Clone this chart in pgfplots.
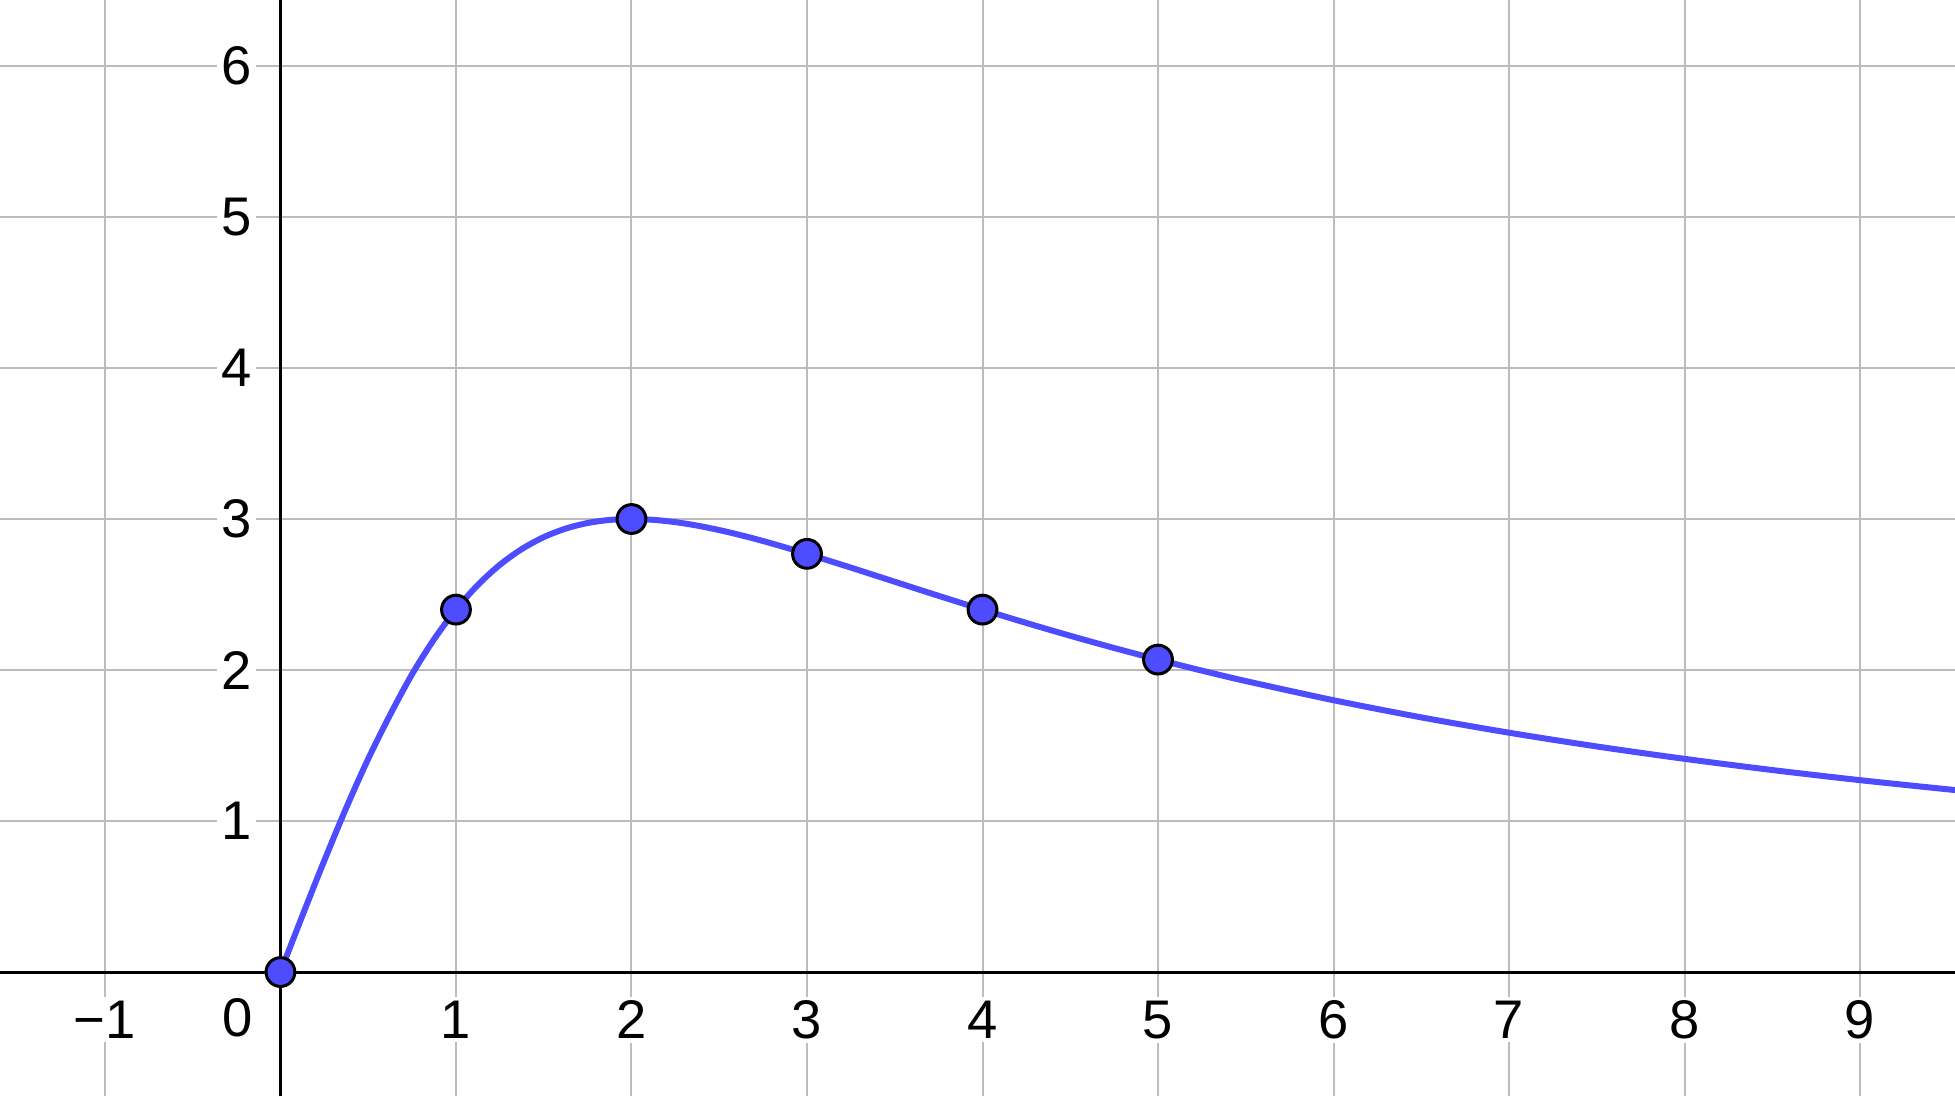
\documentclass[border=0pt]{standalone}
\usepackage{fontspec}
\setmainfont{Liberation Sans}
\usepackage{pgfplots}
\pgfplotsset{compat=1.18}
\definecolor{ggblue}{RGB}{77,77,255}
\definecolor{gridgray}{RGB}{188,188,188}
\begin{document}
\begin{tikzpicture}
\begin{axis}[
  width=488.75pt, height=274pt, scale only axis,
  xmin=-1.598, xmax=9.541, ymin=-0.821, ymax=6.437,
  axis lines=middle,
  axis line style={-, black, line width=0.75pt},
  xtick={-1,1,2,3,4,5,6,7,8,9}, ytick={1,2,3,4,5,6},
  xticklabels={−1,1,2,3,4,5,6,7,8,9},
  yticklabels={1,2,3,4,5,6},
  grid=major, grid style={gridgray, line width=0.5pt},
  major tick length=0pt,
  tick label style={font=\fontsize{13.6}{16}\selectfont, fill=white, inner sep=1pt},
  xticklabel style={anchor=north, yshift=-6pt},
  yticklabel style={anchor=east, xshift=-6pt},
  clip=true,
]
\addplot[ggblue, line width=1.5pt, smooth, tension=0.5] coordinates {
  (0,0) (0.125,0.3735) (0.25,0.7385) (0.375,1.0877) (0.5,1.4118) (0.625,1.7040)
  (0.75,1.9726) (0.875,2.2033) (1,2.4) (1.125,2.5638) (1.25,2.6966) (1.375,2.8011)
  (1.5,2.88) (1.625,2.9365) (1.75,2.9735) (1.875,2.9938) (2,3) (2.125,2.9945)
  (2.25,2.9793) (2.375,2.9562) (2.5,2.9268) (2.625,2.8924) (2.75,2.8541) (2.875,2.8127)
  (3,2.7692) (3.25,2.6781) (3.5,2.5846) (3.75,2.4913) (4,2.4) (4.25,2.3116)
  (4.5,2.2268) (4.75,2.1459) (5,2.0690) (5.25,1.9960) (5.5,1.9270) (6,1.8)
  (6.5,1.6865) (7,1.5849) (7.5,1.4938) (8,1.4118) (8.5,1.3377) (9,1.2706) (9.6,1.198)
};
\addplot[only marks, mark=*, mark size=3.6pt,
  mark options={fill=ggblue, draw=black, line width=0.75pt}] coordinates {
  (0,0) (1,2.4) (2,3) (3,2.7692) (4,2.4) (5,2.069)
};
\node[anchor=north east, inner sep=1pt, xshift=-5.75pt, yshift=-5.5pt,
  font=\fontsize{13.6}{16}\selectfont] at (axis cs:0,0) {0};
\end{axis}
\pgfresetboundingbox
\useasboundingbox (current axis.south west) rectangle (current axis.north east);
\end{tikzpicture}
\end{document}
